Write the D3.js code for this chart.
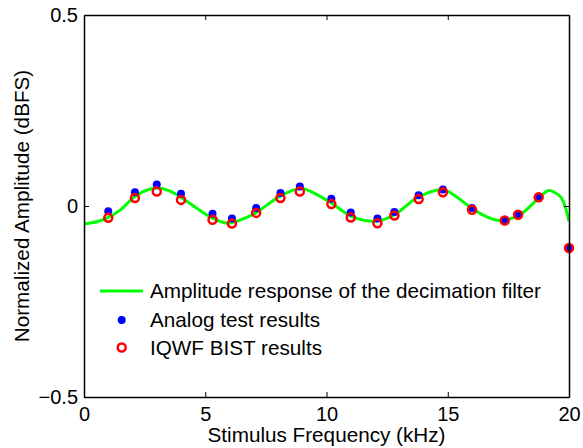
<!DOCTYPE html>
<html>
<head>
<meta charset="utf-8">
<script src="https://cdn.jsdelivr.net/npm/d3@7"></script>
<style>
  html, body { margin: 0; padding: 0; background: #fff; }
  svg { display: block; font-family: "Liberation Sans", Arial, Helvetica, sans-serif; }
</style>
</head>
<body>
<svg id="chart" width="583" height="448"></svg>
<script>
// ---- data ----
const testFreq = [1.0, 2.1, 3.0, 4.0, 5.3, 6.1, 7.1, 8.1, 8.9, 10.2, 11.0, 12.1, 12.8, 13.8, 14.8, 16.0, 17.35, 17.9, 18.75, 20.0];
const analogResults = [-0.014, 0.036, 0.056, 0.032, -0.020, -0.033, -0.005, 0.034, 0.051, 0.019, -0.017, -0.033, -0.016, 0.028, 0.043, -0.005, -0.038, -0.023, 0.023, -0.110];
const bistResults = [-0.031, 0.021, 0.038, 0.016, -0.036, -0.046, -0.018, 0.021, 0.038, 0.005, -0.030, -0.045, -0.025, 0.018, 0.036, -0.010, -0.038, -0.023, 0.023, -0.110];

const filterFreq = [0, 0.6, 1.0, 1.5, 2.1, 2.6, 3.07, 3.5, 4.03, 4.7, 5.27, 5.95, 6.71, 7.18, 8.14, 8.96, 9.6, 10.2, 11.03, 12.0, 12.81, 13.43, 13.77, 14.8, 15.4, 15.97, 16.6, 17.21, 17.97, 18.79, 19.13, 19.4, 19.69, 20.0];
const filterAmp = [-0.047, -0.040, -0.030, -0.010, 0.025, 0.042, 0.047, 0.040, 0.021, -0.008, -0.031, -0.045, -0.030, -0.014, 0.028, 0.046, 0.030, 0.008, -0.027, -0.040, -0.023, 0.008, 0.023, 0.043, 0.022, -0.005, -0.028, -0.038, -0.023, 0.023, 0.040, 0.036, 0.021, -0.040];

const xTicks = [0, 5, 10, 15, 20];
const xTickLabels = ["0", "5", "10", "15", "20"];
const yTicks = [-0.5, 0, 0.5];
const yTickLabels = ["\u22120.5", "0", "0.5"];

const legendLabels = ["Amplitude response of the decimation filter", "Analog test results", "IQWF BIST results"];

// ---- layout ----
const L = 84, R = 569, T = 15, B = 397;
const svg = d3.select("#chart");
const x = d3.scaleLinear().domain([0, 20]).range([L, R]);
const y = d3.scaleLinear().domain([-0.5, 0.5]).range([B, T]);
const FS = 20.7;
const TFS = 20;

svg.append("defs").append("clipPath").attr("id", "clip")
  .append("rect").attr("x", L).attr("y", T).attr("width", R - L).attr("height", B - T);

// filter curve
const curveData = filterFreq.map((f, i) => [f, filterAmp[i]]);
svg.append("path")
  .datum(curveData)
  .attr("clip-path", "url(#clip)")
  .attr("fill", "none")
  .attr("stroke", "#00ff00")
  .attr("stroke-width", 3)
  .attr("d", d3.line().x(d => x(d[0])).y(d => y(d[1])).curve(d3.curveCatmullRom.alpha(0.5)));

// analog points
svg.append("g").selectAll("circle")
  .data(testFreq.map((f, i) => [f, analogResults[i]]))
  .join("circle")
  .attr("cx", d => x(d[0])).attr("cy", d => y(d[1]))
  .attr("r", 4).attr("fill", "#0000ff");

// BIST points
svg.append("g").selectAll("circle")
  .data(testFreq.map((f, i) => [f, bistResults[i]]))
  .join("circle")
  .attr("cx", d => x(d[0])).attr("cy", d => y(d[1]))
  .attr("r", 4).attr("fill", "none").attr("stroke", "#ff0000").attr("stroke-width", 2.5);

// axes (box with inward ticks)
const tickLen = 5;
const axG = svg.append("g");
const axBottom = d3.axisBottom(x).tickValues(xTicks).tickSizeInner(-tickLen).tickSizeOuter(0)
  .tickFormat((d, i) => xTickLabels[i]).tickPadding(10);
const axLeft = d3.axisLeft(y).tickValues(yTicks).tickSizeInner(-tickLen).tickSizeOuter(0)
  .tickFormat((d, i) => yTickLabels[i]).tickPadding(6);
const axTop = d3.axisTop(x).tickValues(xTicks).tickSizeInner(-tickLen).tickSizeOuter(0).tickFormat("");
const axRight = d3.axisRight(y).tickValues(yTicks).tickSizeInner(-tickLen).tickSizeOuter(0).tickFormat("");

function styleAxis(g) {
  g.selectAll(".domain").attr("stroke", "#000").attr("stroke-width", 1.5);
  g.selectAll(".tick line").attr("stroke", "#000").attr("stroke-width", 1);
  g.selectAll(".tick text").attr("font-size", TFS).attr("fill", "#000")
    .attr("font-family", "'Liberation Sans', Arial, sans-serif");
}
axG.append("g").attr("transform", `translate(0,${B})`).call(axBottom).call(styleAxis);
axG.append("g").attr("transform", `translate(${L},0)`).call(axLeft).call(styleAxis);
axG.append("g").attr("transform", `translate(0,${T})`).call(axTop).call(styleAxis);
axG.append("g").attr("transform", `translate(${R},0)`).call(axRight).call(styleAxis);

// axis labels
svg.append("text").attr("x", (L + R) / 2).attr("y", 442).attr("text-anchor", "middle")
  .attr("font-size", FS).text("Stimulus Frequency (kHz)");
svg.append("text").attr("transform", `translate(29,${(T + B) / 2}) rotate(-90)`)
  .attr("text-anchor", "middle").attr("font-size", FS).text("Normalized Amplitude (dBFS)");

// legend
const lg = svg.append("g");
const rows = [291, 320, 347.5];
lg.append("line").attr("x1", 100).attr("x2", 143).attr("y1", rows[0]).attr("y2", rows[0])
  .attr("stroke", "#00ff00").attr("stroke-width", 3);
lg.append("circle").attr("cx", 121.7).attr("cy", rows[1]).attr("r", 4).attr("fill", "#0000ff");
lg.append("circle").attr("cx", 121.7).attr("cy", rows[2]).attr("r", 4).attr("fill", "none")
  .attr("stroke", "#ff0000").attr("stroke-width", 2.5);
legendLabels.forEach((t, i) => {
  lg.append("text").attr("x", 150).attr("y", rows[i]).attr("dy", "0.35em")
    .attr("font-size", FS).text(t);
});
</script>
</body>
</html>
